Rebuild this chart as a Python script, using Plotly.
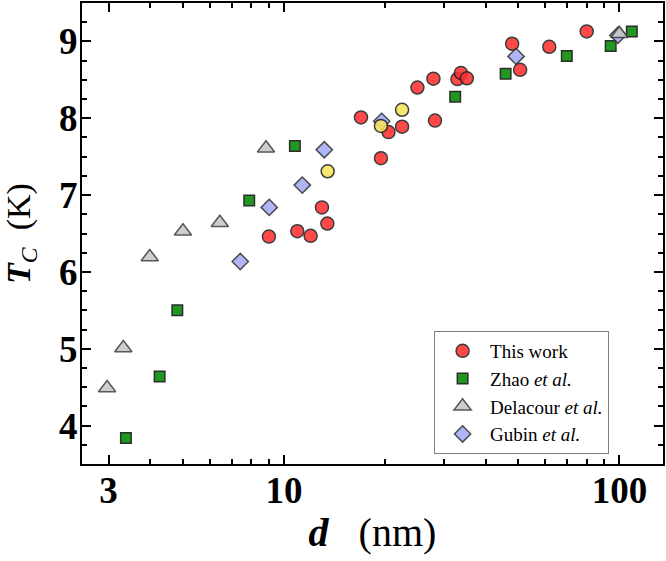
import plotly.graph_objects as go

# ---- data (d in nm, Tc in K) ----
this_work_d = [9.02, 10.96, 12.01, 12.98, 13.47, 16.97, 19.46, 20.5, 22.5, 25.0,
               27.9, 28.2, 32.9, 33.7, 35.1, 47.9, 50.6, 61.8, 79.9]
this_work_tc = [6.46, 6.53, 6.47, 6.84, 6.63, 8.01, 7.48, 7.82, 7.89, 8.40,
                8.515, 7.97, 8.51, 8.59, 8.52, 8.97, 8.63, 8.93, 9.13]

yellow_d = [13.5, 19.46, 22.5]
yellow_tc = [7.31, 7.90, 8.11]

zhao_d = [3.38, 4.26, 4.81, 7.88, 10.78, 32.4, 45.8, 69.7, 94.2, 108.9]
zhao_tc = [3.84, 4.64, 5.50, 6.93, 7.64, 8.28, 8.58, 8.81, 8.94, 9.13]

delacour_d = [2.97, 3.32, 3.98, 5.0, 6.44, 8.84, 100.0]
delacour_tc = [4.49, 5.01, 6.195, 6.53, 6.64, 7.61, 9.10]

gubin_d = [7.41, 9.04, 11.34, 13.19, 19.56, 49.2, 99.0]
gubin_tc = [6.135, 6.84, 7.13, 7.59, 7.96, 8.805, 9.08]

x_major = [3, 10, 100]
x_minor = [4, 5, 6, 7, 8, 9, 20, 30, 40, 50, 60, 70, 80, 90]
y_major = [4, 5, 6, 7, 8, 9]

SERIF = "Liberation Serif, Times New Roman, serif"
OP = 0.88

fig = go.Figure()
fig.add_trace(go.Scatter(
    x=zhao_d, y=zhao_tc, mode="markers", name="Zhao <i>et al.</i>", legendrank=2,
    marker=dict(symbol="square", size=10.5, color="#008a00", opacity=OP,
                line=dict(color="#111111", width=1.5))))
fig.add_trace(go.Scatter(
    x=gubin_d, y=gubin_tc, mode="markers", name="Gubin <i>et al.</i>", legendrank=4,
    marker=dict(symbol="diamond", size=12.5, color="#a3acf7", opacity=OP,
                line=dict(color="#333333", width=1.5))))
fig.add_trace(go.Scatter(
    x=delacour_d, y=delacour_tc, mode="markers", name="Delacour <i>et al.</i>", legendrank=3,
    marker=dict(symbol="triangle-up", size=15, color="#c8c8c8", opacity=OP,
                line=dict(color="#404040", width=1.5))))
fig.add_trace(go.Scatter(
    x=this_work_d, y=this_work_tc, mode="markers", name="This work", legendrank=1,
    marker=dict(symbol="circle", size=13, color="#ff3030", opacity=OP,
                line=dict(color="#222222", width=1.5))))
fig.add_trace(go.Scatter(
    x=yellow_d, y=yellow_tc, mode="markers", name="", showlegend=False,
    marker=dict(symbol="circle", size=13, color="#f8e45c", opacity=OP,
                line=dict(color="#222222", width=1.5))))

axis_common = dict(
    showline=True, linecolor="black", linewidth=2, mirror="ticks",
    ticks="inside", ticklen=9, tickwidth=2, tickcolor="black",
    showgrid=False, zeroline=False,
    tickfont=dict(family=SERIF, size=37, color="black", weight="bold"),
)

fig.update_xaxes(
    type="log", range=[0.398, 2.130],
    tickmode="array", tickvals=x_major, ticktext=[str(v) for v in x_major],
    ticklabelstandoff=-7,
    minor=dict(tickmode="array", tickvals=x_minor, ticks="inside", ticklen=5,
               tickwidth=2, tickcolor="black", showgrid=False),
    title=dict(text="<b><i>d</i></b>&nbsp;&nbsp; (nm)",
               font=dict(family=SERIF, size=40, color="black"), standoff=8),
    **axis_common)
fig.update_yaxes(
    range=[3.5, 9.5],
    tickmode="array", tickvals=y_major, ticktext=[str(v) for v in y_major],
    ticklabelstandoff=-5,
    minor=dict(tickmode="linear", tick0=3.5, dtick=0.25, ticks="inside", ticklen=5,
               tickwidth=2, tickcolor="black", showgrid=False),
    title=dict(text="<b><i>T</i></b><sub><i>C</i></sub>&nbsp; (K)",
               font=dict(family=SERIF, size=34, color="black"), standoff=22),
    **axis_common)

fig.update_layout(
    width=666, height=561,
    margin=dict(l=82, r=3, t=3, b=97, autoexpand=False),
    paper_bgcolor="white", plot_bgcolor="white",
    legend=dict(x=0.606, y=0.2885, xanchor="left", yanchor="top",
                bgcolor="white", bordercolor="#808080", borderwidth=1,
                font=dict(family=SERIF, size=19, color="black"),
                itemwidth=45, traceorder="normal"),
)

fig.write_html("out.html", config={"displayModeBar": False},
               post_script="document.body.style.margin='0';document.body.style.overflow='hidden';")
